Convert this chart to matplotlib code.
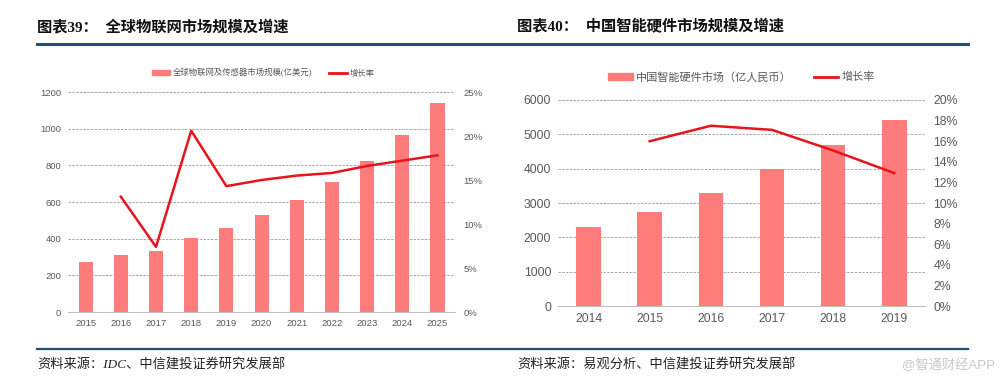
import matplotlib
matplotlib.use("Agg")
import matplotlib.pyplot as plt
from matplotlib.ticker import FuncFormatter
from matplotlib.lines import Line2D

plt.rcParams['font.family'] = ['Liberation Sans', 'Noto Sans CJK SC', 'DejaVu Sans']

# left chart data: global IoT market
years_l = ['2015', '2016', '2017', '2018', '2019', '2020', '2021', '2022', '2023', '2024', '2025']
size_l = [275, 310, 333, 403, 460, 530, 612, 708, 826, 968, 1140]
growth_l = [None, 13.1, 7.4, 20.6, 14.3, 15.0, 15.5, 15.8, 16.6, 17.2, 17.8]

# right chart data: China smart hardware market
years_r = ['2014', '2015', '2016', '2017', '2018', '2019']
size_r = [2290, 2740, 3300, 4000, 4700, 5420]
growth_r = [None, 16.0, 17.5, 17.1, 15.1, 12.9]

bar_c = '#FF7C7C'
line_c = '#E8141B'
grid_c = '#9a9a9a'
tick_c = '#595959'
serif = ['Liberation Serif', 'Noto Sans CJK SC', 'DejaVu Sans']

fig = plt.figure(figsize=(10.01, 3.84), dpi=100)

def draw(rect, years, size, growth, ymax, ystep, gmax, gstep, fs, leg_label, leg_y, leg_x, leg_fs):
    ax = fig.add_axes(rect)
    x = list(range(len(years)))
    ax.bar(x, size, width=0.4, color=bar_c, zorder=2)
    ax.set_xlim(-0.5, len(years) - 0.5)
    ax.set_ylim(0, ymax)
    ax.set_yticks(range(0, ymax + 1, ystep))
    ax.set_xticks(x)
    ax.set_xticklabels(years)
    ax.grid(axis='y', color=grid_c, lw=0.6, ls=(0, (3, 1.5)), zorder=0)
    for s in ['left', 'right', 'top']:
        ax.spines[s].set_visible(False)
    ax.spines['bottom'].set_color('#bfbfbf')
    ax.tick_params(length=0, labelsize=fs, colors=tick_c, pad=5)

    ax2 = ax.twinx()
    gx = [i for i, g in zip(x, growth) if g is not None]
    gy = [g for g in growth if g is not None]
    ax2.plot(gx, gy, color=line_c, lw=1.8, zorder=3)
    ax2.set_ylim(0, gmax)
    ax2.set_yticks(range(0, gmax + 1, gstep))
    ax2.yaxis.set_major_formatter(FuncFormatter(lambda v, p: '%d%%' % v))
    for s in ['left', 'right', 'top', 'bottom']:
        ax2.spines[s].set_visible(False)
    ax2.tick_params(length=0, labelsize=fs, colors=tick_c, pad=6)

    handles = [plt.Rectangle((0, 0), 1, 1, color=bar_c),
               Line2D([0], [0], color=line_c, lw=2)]
    fig.legend(handles, [leg_label, '增长率'], loc='center', bbox_to_anchor=(leg_x, leg_y),
               ncol=2, frameon=False, prop={'size': leg_fs, 'family': serif}, labelcolor=tick_c,
               handlelength=2.2, handleheight=0.6, columnspacing=2.0, handletextpad=0.3)
    return ax

draw([0.068, 0.1875, 0.3866, 0.5729], years_l, size_l, growth_l, 1200, 200, 25, 5, 6.8,
     '全球物联网及传感器市场规模(亿美元)', 1 - 73 / 384, 0.263, 6.0)
draw([0.5574, 0.2031, 0.3666, 0.5365], years_r, size_r, growth_r, 6000, 1000, 20, 2, 8.8,
     '中国智能硬件市场（亿人民币）', 1 - 77 / 384, 0.741, 8.0)

# titles and rules
fig.text(37 / 1001, 1 - 27 / 384, '图表39：  全球物联网市场规模及增速', fontsize=11,
         fontweight='bold', va='center', ha='left', color='#111111', family=serif)
fig.text(517 / 1001, 1 - 27 / 384, '图表40：  中国智能硬件市场规模及增速', fontsize=11,
         fontweight='bold', va='center', ha='left', color='#111111', family=serif)
fig.add_artist(Line2D([37 / 1001, 968 / 1001], [1 - 44 / 384] * 2, color='#1F4E79', lw=2.2))
fig.add_artist(Line2D([37 / 1001, 968 / 1001], [1 - 349 / 384] * 2, color='#1F4E79', lw=1.6))

fig.text(37 / 1001, 1 - 365 / 384, '资料来源：IDC、中信建投证券研究发展部', fontsize=9.5,
         va='center', ha='left', color='#222222', style='italic', family=serif)
fig.text(517 / 1001, 1 - 365 / 384, '资料来源：易观分析、中信建投证券研究发展部', fontsize=9.5,
         va='center', ha='left', color='#222222', style='italic', family=serif)
fig.text(995 / 1001, 1 - 365 / 384, '@智通财经APP', fontsize=9.5,
         va='center', ha='right', color='#c8c8c8')

fig.savefig('out.png', dpi=100)
